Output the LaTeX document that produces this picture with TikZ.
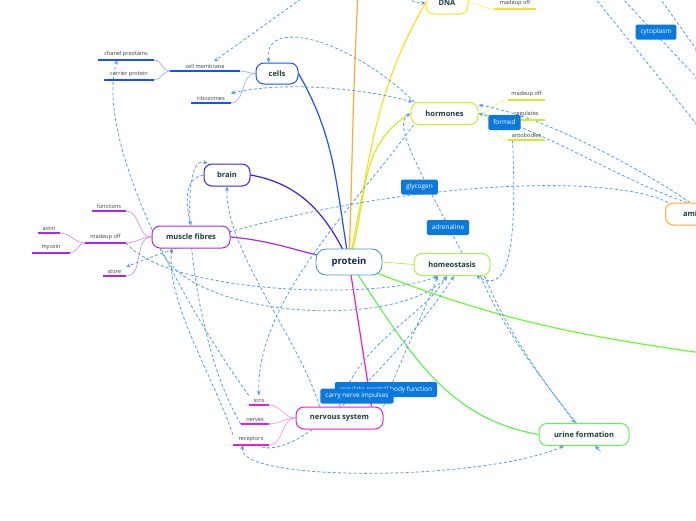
\documentclass[tikz,border=0pt]{standalone}
\usepackage{fontspec}
\setmainfont{Open Sans}
\usetikzlibrary{arrows.meta}
\usetikzlibrary{backgrounds}

\begin{document}
\begin{tikzpicture}[x=1pt,y=-1pt,>={Stealth[length=4.5pt,width=4pt]},
	topic/.style={draw=#1,line width=1pt,rounded corners=8pt,fill=white,minimum height=22pt,text=topictext,font=\bfseries\fontsize{7.5}{9}\selectfont},
	proteinbox/.style={draw=proteinblue,line width=0.9pt,rounded corners=10pt,fill=white,minimum width=66pt,minimum height=26pt,text=proteintext,font=\bfseries\fontsize{9.5}{11}\selectfont},
	subtopic/.style={anchor=south,text=subtext,inner xsep=0pt,inner ysep=2.5pt,font=\fontsize{5.6}{6}\selectfont},
	ulinestyle/.style={line width=1.5pt},
	branch/.style={line width=1.2pt},
	twig/.style={line width=0.7pt},
	rel/.style={->,draw=reldash,line width=0.8pt,dash pattern=on 3pt off 2.2pt},
	rellabel/.style={fill=relblue,text=white,rounded corners=1.5pt,inner xsep=5pt,minimum height=15pt,font=\fontsize{6.5}{7}\selectfont}]

	\definecolor{relblue}{RGB}{10,120,220}
	\definecolor{reldash}{RGB}{86,156,230}
	\definecolor{topictext}{RGB}{25,60,60}
	\definecolor{proteintext}{RGB}{25,40,75}
	\definecolor{subtext}{RGB}{60,60,60}
	\definecolor{proteinblue}{RGB}{70,150,205}
	\definecolor{cellsblue}{RGB}{30,80,240}
	\definecolor{brainblue}{RGB}{60,30,235}
	\definecolor{musclepurple}{RGB}{170,40,235}
	\definecolor{dnayellow}{RGB}{255,222,30}
	\definecolor{hormgreen}{RGB}{205,238,40}
	\definecolor{homeogreen}{RGB}{170,238,80}
	\definecolor{nervpink}{RGB}{238,30,200}
	\definecolor{urinegreen}{RGB}{100,240,90}
	\definecolor{aminoorange}{RGB}{255,170,50}
	\definecolor{rightgreen}{RGB}{110,250,50}

	\useasboundingbox (0,0) rectangle (696,520);

	% topics
	\node[proteinbox] (protein) at (349,262) {protein};
	\node[topic=cellsblue, minimum width=42pt, minimum height=21pt] (cells) at (277,73.5) {cells};
	\node[topic=brainblue, minimum width=46pt] (brain) at (227,175) {brain};
	\node[topic=musclepurple, minimum width=78pt] (muscle) at (191,237) {muscle fibres};
	\node[topic=dnayellow, minimum width=42pt] (dna) at (447,3) {DNA};
	\node[topic=hormgreen, minimum width=67pt] (hormones) at (444.5,113.5) {hormones};
	\node[topic=homeogreen, minimum width=76pt] (homeostasis) at (452,264.5) {homeostasis};
	\node[topic=nervpink, minimum width=87pt] (nervous) at (339.5,418) {nervous system};
	\node[topic=urinegreen, minimum width=90pt] (urine) at (584,434.5) {urine formation};
	\node[topic=aminoorange, minimum width=80pt, anchor=west] (amino) at (665,214) {amino acids};
	\coordinate (orangetop) at (358,-6);
	\coordinate (rightend) at (702,353);

	% subtopics
	\node[subtopic, minimum width=70pt] (membrane) at (205,71) {cell membrane};
	\node[subtopic, minimum width=39pt] (ribosomes) at (211,103) {ribosomes};
	\node[subtopic, minimum width=56pt] (chanel) at (126,60) {chanel preotains};
	\node[subtopic, minimum width=50pt] (carrier) at (129,80) {carrier protein};
	\node[subtopic, minimum width=41pt] (dnamade) at (515,9) {madeup off};
	\node[subtopic, minimum width=37pt] (hormmade) at (526.5,100) {madeup off};
	\node[subtopic, minimum width=37pt] (regulates) at (526.5,120) {regulates};
	\node[subtopic, minimum width=37pt] (antibodies) at (526.5,140) {antobodies};
	\node[subtopic, minimum width=34pt] (functions) at (109,211) {functions};
	\node[subtopic, minimum width=41pt] (musclemade) at (105.5,243) {madeup off};
	\node[subtopic, minimum width=23pt] (store) at (114.5,276) {store};
	\node[subtopic, minimum width=22pt] (actin) at (49,233) {actin};
	\node[subtopic, minimum width=38pt] (myosin) at (51,253) {myosin};
	\node[subtopic, minimum width=20pt] (ions) at (259,405) {ions};
	\node[subtopic, minimum width=28pt] (nerves) at (255,424) {nerves};
	\node[subtopic, minimum width=36pt] (receptors) at (251,445) {receptors};

	\foreach \n/\c in {membrane/cellsblue,ribosomes/cellsblue,chanel/cellsblue,carrier/cellsblue,
		dnamade/dnayellow,hormmade/hormgreen,regulates/hormgreen,antibodies/hormgreen,
		functions/musclepurple,musclemade/musclepurple,store/musclepurple,actin/musclepurple,myosin/musclepurple,
		ions/nervpink,nerves/nervpink,receptors/nervpink}
		\draw[ulinestyle, draw=\c] (\n.south west) -- (\n.south east);

	% relation labels
	\node[rellabel] (cytoplasm) at (656,32) {cytoplasm};
	\node[rellabel] (formed) at (504.5,122.5) {formed};
	\node[rellabel] (glycogen) at (419.5,187) {glycogen};
	\node[rellabel] (adrenaline) at (448,227.5) {adrenaline};
	\node[rellabel] (regulate) at (386,389.5) {regulate normal body function};
	\node[rellabel] (impulses) at (357,396) {carry nerve impulses};

	\begin{pgfonlayer}{background}
	\draw[branch]
	(protein.center) edge[cellsblue, out=100, in=-60] (cells.east)
	(protein.center) edge[brainblue, out=115, in=-10] (brain.east)
	(protein.center) edge[musclepurple, out=170, in=-5] (muscle.east)
	(protein.center) edge[aminoorange, out=88, in=-93] (orangetop)
	(protein.center) edge[dnayellow, out=78, in=-120] (dna.west)
	(protein.center) edge[hormgreen, out=72, in=-150] (hormones.west)
	(protein.center) edge[nervpink] ([xshift=-12pt]nervous.north east)
	(protein.center) edge[urinegreen, out=-55, in=170] (urine.west)
	(protein.center) edge[rightgreen, out=-22, in=172] (rightend);
	\draw[twig, homeogreen] (protein.east) -- (homeostasis.west);

	\draw[twig, cellsblue!45]
	(cells.west) edge[out=180, in=0] (membrane.south east)
	(cells.west) edge[out=180, in=0] (ribosomes.south east)
	(membrane.south west) edge[out=180, in=0] (chanel.south east)
	(membrane.south west) edge[out=180, in=0] (carrier.south east);
	\draw[twig, dnayellow!55] (dna.east) to[out=0, in=180] (dnamade.south west);
	\draw[twig, hormgreen!55]
	(hormones.east) edge[out=0, in=180] (hormmade.south west)
	(hormones.east) edge[out=0, in=180] (regulates.south west)
	(hormones.east) edge[out=0, in=180] (antibodies.south west);
	\draw[twig, musclepurple!50]
	(muscle.west) edge[out=180, in=0] (functions.south east)
	(muscle.west) edge[out=180, in=0] (musclemade.south east)
	(muscle.west) edge[out=180, in=0] (store.south east)
	(musclemade.south west) edge[out=180, in=0] (actin.south east)
	(musclemade.south west) edge[out=180, in=0] (myosin.south east);
	\draw[twig, nervpink!45]
	(nervous.west) edge[out=180, in=0] (ions.south east)
	(nervous.west) edge[out=180, in=0] (nerves.south east)
	(nervous.west) edge[out=180, in=0] (receptors.south east);

	% relations
	\coordinate (topcm) at (305,-4);
	\coordinate (topdna) at (392,-6);
	\draw[rel] ([xshift=4pt]hormones.north west) .. controls (345,35) and (262,18) .. ([xshift=-8pt]cells.north);
	\draw[rel,<->] (ribosomes.north east) .. controls (290,80) and (370,90) .. ([xshift=2pt]hormones.north west);
	\draw[rel] (topcm) -- ([xshift=9pt]membrane.north);
	\draw[rel] (topdna) to[out=-10, in=180] (dna.west);
	\draw[rel] (ions.north west) .. controls (180,300) and (95,140) .. ([xshift=-9pt]chanel.south);
	\draw[rel] (nerves.south west) .. controls (190,340) and (175,150) .. ([xshift=4pt]brain.north west);
	\draw[rel] (brain.west) .. controls (183,178) and (186,205) .. (muscle.north);
	\draw[rel] (receptors.north west) .. controls (215,380) and (165,300) .. ([xshift=-19pt]muscle.south);
	\draw[rel] ([xshift=3pt]amino.north west) .. controls (600,168) and (330,185) .. (store.north east);
	\draw[rel] ([xshift=25pt]amino.north west) .. controls (640,168) and (540,115) .. ([yshift=-3pt]hormones.north east);
	\draw[rel] ([xshift=22pt]amino.north west) .. controls (620,180) and (540,128) .. (hormones.east);
	\draw[rel] ([xshift=10pt]homeostasis.north) .. controls (420,170) and (392,125) .. (hormones.west);
	\draw[rel] ([xshift=-14pt]antibodies.south) .. controls (518,262) and (505,292) .. ([xshift=-14pt]homeostasis.south east);
	\draw[rel] ([xshift=-10pt]homeostasis.south east) .. controls (505,335) and (555,395) .. ([xshift=-9pt]urine.north);
	\draw[rel] ([xshift=-6pt]homeostasis.south east) .. controls (525,375) and (612,462) .. ([xshift=11pt]urine.south);
	\draw[rel] (nervous.north east) .. controls (400,360) and (425,310) .. ([xshift=-14pt]homeostasis.south);
	\draw[rel] (nervous.north) .. controls (360,340) and (420,320) .. ([xshift=-5pt]homeostasis.south);
	\draw[rel] ([xshift=6pt]receptors.south) .. controls (300,470) and (420,330) .. ([xshift=2pt]homeostasis.south);
	\draw[rel,<->] ([xshift=-8pt]receptors.south) .. controls (235,482) and (480,482) .. ([xshift=-20pt]urine.south);
	\draw[rel] (musclemade.south east) .. controls (170,295) and (380,300) .. ([xshift=-14pt]homeostasis.south);
	\draw[rel] ([xshift=-31pt]muscle.south) .. controls (190,320) and (400,330) .. ([xshift=-5pt]homeostasis.south);
	\draw[rel] ([xshift=-20pt]nervous.north) .. controls (300,340) and (225,250) .. (brain.south);
	\draw[rel] ([xshift=3pt]hormones.south west) .. controls (360,200) and (255,300) .. (ions.north);
	\foreach \a/\b [count=\i] in {594/127,621/80,659/53}{
		\coordinate (cyttop\i) at (\a,-3);
		\coordinate (cytend\i) at (699,\b);
		\draw[rel] (cyttop\i) -- (cytend\i);
	}
	\end{pgfonlayer}
\end{tikzpicture}
\end{document}
